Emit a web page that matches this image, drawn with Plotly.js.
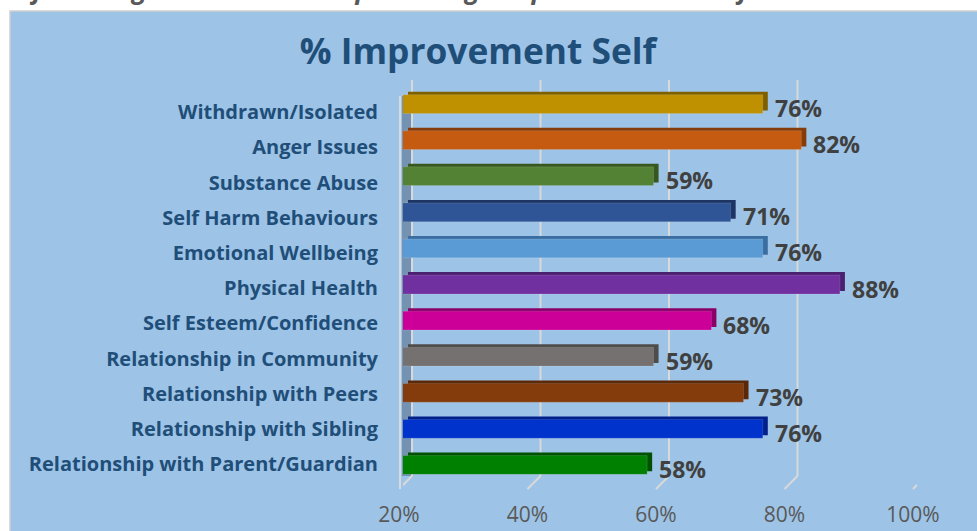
<!DOCTYPE html>
<html>
<head>
<meta charset="utf-8">
<script src="https://cdn.plot.ly/plotly-3.0.1.min.js"></script>
<style>
html,body{margin:0;padding:0;background:#fff;overflow:hidden;}
#chart{width:977px;height:531px;}
</style>
</head>
<body>
<div id="chart"></div>
<script>
const categories = ['Relationship with Parent/Guardian', 'Relationship with Sibling', 'Relationship with Peers',
  'Relationship in Community', 'Self Esteem/Confidence', 'Physical Health', 'Emotional Wellbeing',
  'Self Harm Behaviours', 'Substance Abuse', 'Anger Issues', 'Withdrawn/Isolated'];
const values = [58, 76, 73, 59, 68, 88, 76, 71, 59, 82, 76];
const barColors = ['#008000', '#0033CC', '#843C0C', '#767171', '#CC0099', '#7030A0', '#5B9BD5',
  '#2F5597', '#548235', '#C55A11', '#BF9000'];
const sideColors = ['#005200', '#00208A', '#5A2808', '#4E4B4B', '#8A0068', '#4B2070', '#3A6EA0',
  '#1C3564', '#38571F', '#843C0B', '#7F6000'];
const tickVals = [20, 40, 60, 80, 100];
const tickText = ['20%', '40%', '60%', '80%', '100%'];
const title = '% Improvement Self';
const caption = 'The following chart shows the percentage improvement in Self and';

const W = 977, H = 531;
const M = {l: 403, r: 50, t: 80, b: 48};
const pw = W - M.l - M.r, ph = H - M.t - M.b;
const fx = v => (v - M.l) / pw;           // pixel x -> paper
const py = v => (H - M.b - v) / ph;       // pixel y -> paper
const idx = categories.map((c, i) => i);

const FONT = 'Open Sans';

const traces = [
  { // depth (side/top faces)
    type: 'bar', orientation: 'h', y: categories, x: values, width: 0.52,
    marker: {color: sideColors, line: {width: 0}},
    hoverinfo: 'skip', xaxis: 'x', yaxis: 'y'
  },
  { // front faces
    type: 'bar', orientation: 'h', y: categories, x: values, width: 0.52,
    marker: {color: barColors, line: {color: 'rgba(255,255,255,0.25)', width: 0.5}},
    hoverinfo: 'skip', xaxis: 'x2', yaxis: 'y2'
  },
  { // category label axis
    type: 'scatter', mode: 'none', x: [], y: [], xaxis: 'x2', yaxis: 'y4', hoverinfo: 'skip'
  }
];

const gridShapes = [];
tickVals.forEach(v => {
  gridShapes.push({type: 'line', layer: 'below', xref: 'x2', xsizemode: 'pixel', xanchor: v,
    x0: 9, x1: 9, yref: 'paper', y0: py(476), y1: py(80), line: {color: '#D9D9D9', width: 2}});
  gridShapes.push({type: 'line', layer: 'below', xref: 'x2', xsizemode: 'pixel', xanchor: v,
    x0: 9, x1: -4, yref: 'paper', y0: py(476), y1: py(489), line: {color: '#D9D9D9', width: 2}});
});

const layout = {
  width: W, height: H,
  margin: M,
  paper_bgcolor: '#FFFFFF',
  plot_bgcolor: 'rgba(0,0,0,0)',
  showlegend: false,
  barmode: 'overlay',
  title: {
    text: '<b>' + title + '</b>',
    font: {family: FONT, size: 35.3, color: '#1F4E79'},
    x: 478 / W, xref: 'container', xanchor: 'center',
    y: 1 - 52 / H, yref: 'container', yanchor: 'middle'
  },
  xaxis: {
    range: [20, 100], domain: [fx(408), fx(922)], anchor: 'y',
    showticklabels: false, showgrid: false, zeroline: false, showline: false, ticks: '', fixedrange: true
  },
  yaxis: {
    domain: [py(480), py(83)], anchor: 'x', range: [-0.5, categories.length - 0.5],
    showticklabels: false, showgrid: false, zeroline: false, showline: false, ticks: '', fixedrange: true
  },
  xaxis2: {
    range: [20, 100], domain: [0, fx(917)], anchor: 'y2',
    tickvals: tickVals, ticktext: tickText,
    showgrid: false, zeroline: false, showline: false,
    ticks: '', ticklabelstandoff: 17, ticklabelshift: -4,
    tickfont: {family: FONT, size: 21, color: '#595959'},
    fixedrange: true
  },
  yaxis2: {
    domain: [0, py(86)], anchor: 'x2', range: [-0.5, categories.length - 0.5],
    showticklabels: false, showgrid: false, zeroline: false, showline: false, ticks: '', fixedrange: true
  },
  yaxis4: {
    domain: [py(482), py(94.5)], anchor: 'x2', range: [-0.5, categories.length - 0.5],
    tickvals: idx, ticktext: categories,
    showgrid: false, zeroline: false, showline: false,
    ticks: '', ticklabelstandoff: 24,
    tickfont: {family: FONT, size: 20, color: '#1F4E79', weight: 'bold'},
    fixedrange: true
  },
  shapes: [
    {type: 'rect', xref: 'paper', yref: 'paper', layer: 'below',
     x0: fx(10), x1: fx(990), y0: py(11), y1: py(545),
     fillcolor: '#9DC3E6', line: {color: '#D0D0D0', width: 1.5}},
    {type: 'rect', xref: 'paper', yref: 'paper', layer: 'below',
     x0: fx(402), x1: fx(411), y0: py(476), y1: py(96),
     fillcolor: 'rgba(75,100,125,0.5)', line: {width: 0}},
    {type: 'line', xref: 'paper', yref: 'paper', layer: 'below',
     x0: fx(400), x1: fx(400), y0: py(489), y1: py(96),
     line: {color: '#D9D9D9', width: 2}}
  ].concat(gridShapes),
  annotations: [{
    text: '<b><i>' + caption + '</i></b>', showarrow: false,
    xref: 'paper', yref: 'paper', x: fx(-20), xanchor: 'left',
    y: py(9), yanchor: 'bottom',
    font: {family: FONT, size: 26, color: '#595959'}
  }].concat(values.map((v, i) => ({
    text: '<b>' + v + '%</b>', showarrow: false,
    xref: 'x2', yref: 'y2', x: v, y: categories[i],
    xanchor: 'left', yanchor: 'middle', xshift: 10, yshift: -4,
    font: {family: FONT, size: 23, color: '#404040'}
  })))
};

Plotly.newPlot('chart', traces, layout, {displayModeBar: false, staticPlot: true});
</script>
</body>
</html>
